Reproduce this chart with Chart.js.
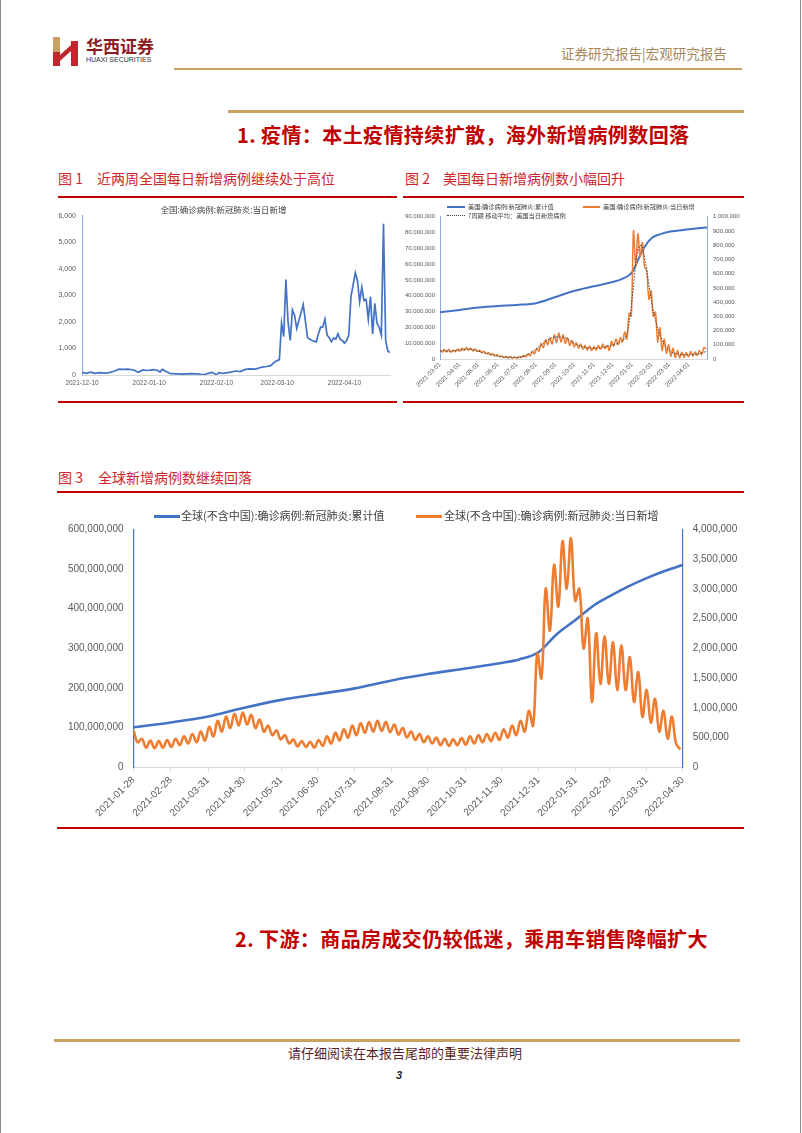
<!DOCTYPE html>
<html>
<head>
<meta charset="utf-8">
<script src="https://cdn.jsdelivr.net/npm/chart.js@4.4.0/dist/chart.umd.min.js"></script>
<style>
  body { margin: 0; background: #fff; }
  #page { position: relative; width: 802px; height: 1133px; overflow: hidden; font-family: "Noto Sans CJK SC", sans-serif; background: #fff; }
  .t { position: absolute; white-space: nowrap; }
  .bar { position: absolute; }
  canvas { position: absolute; }
  .sec { font-size: 20px; line-height: 20px; font-weight: 700; color: #c00000; letter-spacing: 0.4px; }
  .fig { font-size: 14px; line-height: 14px; color: #d0262a; }
  .lg { color: #404040; }
</style>
</head>
<body>
<div id="page">
  <!-- page edges -->
  <div class="bar" style="left:0;top:0;width:1px;height:1133px;background:#8c8c8c"></div>
  <div class="bar" style="left:800px;top:0;width:1px;height:1133px;background:#8c8c8c"></div>

  <!-- header -->
  <svg class="t" style="left:53px;top:37px" width="26" height="29" viewBox="0 0 26 29">
    <rect x="0" y="0" width="7" height="29" fill="#c8a064"/>
    <rect x="0" y="15" width="7" height="14" fill="#c0272d"/>
    <polygon points="7,18 18,8 18,14 7,24" fill="#c0272d"/>
    <rect x="18" y="4" width="7" height="25" fill="#c0272d"/>
  </svg>
  <div class="t" style="left:86px;top:37px;font-size:17px;line-height:17px;font-weight:700;color:#8c1c1f">华西证券</div>
  <div class="t" style="left:86px;top:56px;font-size:7px;line-height:7px;color:#333;font-family:'Liberation Sans'">HUAXI SECURITIES</div>
  <div class="t" style="left:561px;top:46px;font-size:13.5px;line-height:14px;color:#a8875c">证券研究报告|宏观研究报告</div>
  <div class="bar" style="left:174px;top:68px;width:568px;height:2px;background:#c8a165"></div>

  <div class="bar" style="left:228px;top:110px;width:516px;height:3px;background:#c8a165"></div>
  <div class="t sec" style="left:237px;top:125px">1. 疫情：本土疫情持续扩散，海外新增病例数回落</div>

  <div class="t fig" style="left:58px;top:171px">图 1</div>
  <div class="t fig" style="left:97px;top:171px">近两周全国每日新增病例继续处于高位</div>
  <div class="t fig" style="left:405px;top:171px">图 2</div>
  <div class="t fig" style="left:443px;top:171px">美国每日新增病例数小幅回升</div>
  <div class="bar" style="left:58px;top:196px;width:339px;height:2px;background:#c00000"></div>
  <div class="bar" style="left:403px;top:196px;width:341px;height:2px;background:#c00000"></div>
  <div class="bar" style="left:58px;top:401px;width:339px;height:2px;background:#c00000"></div>
  <div class="bar" style="left:403px;top:401px;width:341px;height:2px;background:#c00000"></div>

  <canvas id="c1" width="340" height="200" style="left:57px;top:198px"></canvas>
  <canvas id="c2" width="340" height="200" style="left:403px;top:198px"></canvas>

  <!-- chart 2 legend -->
  <div class="bar" style="left:447px;top:206px;width:18px;height:2px;background:#4472c4"></div>
  <div class="t lg" style="left:468px;top:204px;font-size:6.2px;line-height:6px">美国:确诊病例:新冠肺炎:累计值</div>
  <div class="bar" style="left:583px;top:206px;width:17px;height:2px;background:#ed7d31"></div>
  <div class="t lg" style="left:603px;top:204px;font-size:6.2px;line-height:6px">美国:确诊病例:新冠肺炎:当日新增</div>
  <div class="bar" style="left:447px;top:215px;width:18px;height:0;border-top:1px dotted #404040"></div>
  <div class="t lg" style="left:468px;top:213px;font-size:6.2px;line-height:6px">7周期 移动平均：美国当日新增病例</div>

  <div class="t fig" style="left:58px;top:470px">图 3</div>
  <div class="t fig" style="left:98px;top:470px">全球新增病例数继续回落</div>
  <div class="bar" style="left:57px;top:491px;width:687px;height:2px;background:#c00000"></div>

  <canvas id="c3" width="686" height="328" style="left:57px;top:500px"></canvas>
  <div class="bar" style="left:154px;top:515px;width:26px;height:3px;background:#4472c4"></div>
  <div class="t lg" style="left:181px;top:510px;font-size:11px;line-height:11px">全球(不含中国):确诊病例:新冠肺炎:累计值</div>
  <div class="bar" style="left:416px;top:515px;width:26px;height:3px;background:#ed7d31"></div>
  <div class="t lg" style="left:444px;top:510px;font-size:11px;line-height:11px">全球(不含中国):确诊病例:新冠肺炎:当日新增</div>

  <div class="bar" style="left:57px;top:827px;width:687px;height:2px;background:#c00000"></div>

  <div class="t sec" style="left:235px;top:929px">2. 下游：商品房成交仍较低迷，乘用车销售降幅扩大</div>

  <!-- footer -->
  <div class="bar" style="left:54px;top:1039px;width:686px;height:3px;background:#c8a165"></div>
  <div class="t" style="left:288px;top:1046px;font-size:13px;line-height:13px;color:#5a1f1f">请仔细阅读在本报告尾部的重要法律声明</div>
  <div class="t" style="left:396px;top:1070px;font-size:11px;line-height:11px;font-weight:700;font-style:italic;color:#222;font-family:'Liberation Sans'">3</div>
</div>

<script>
// ---------- chart 1: 全国 当日新增 ----------
const cnStart = '2021-12-10';
const cnDates = ['2021-12-10','2021-12-12','2021-12-14','2021-12-16','2021-12-18','2021-12-21','2021-12-23','2021-12-25',
  '2021-12-27','2021-12-29','2021-12-31','2022-01-03','2022-01-04','2022-01-05','2022-01-07','2022-01-09','2022-01-12',
  '2022-01-14','2022-01-15','2022-01-16','2022-01-18','2022-01-20','2022-01-23','2022-01-26','2022-01-29','2022-02-01',
  '2022-02-04','2022-02-07','2022-02-08','2022-02-10','2022-02-11','2022-02-13','2022-02-16','2022-02-19','2022-02-21',
  '2022-02-23','2022-02-25','2022-02-28','2022-03-03','2022-03-05','2022-03-07','2022-03-09','2022-03-11','2022-03-12',
  '2022-03-13','2022-03-14','2022-03-15','2022-03-16','2022-03-17','2022-03-18','2022-03-19','2022-03-20','2022-03-22',
  '2022-03-24','2022-03-26','2022-03-28','2022-03-29','2022-03-30','2022-03-31','2022-04-01','2022-04-02','2022-04-03',
  '2022-04-04','2022-04-05','2022-04-06','2022-04-07','2022-04-08','2022-04-09','2022-04-10','2022-04-11','2022-04-12',
  '2022-04-13','2022-04-14','2022-04-15','2022-04-16','2022-04-17','2022-04-18','2022-04-19','2022-04-20','2022-04-21',
  '2022-04-22','2022-04-23','2022-04-24','2022-04-25','2022-04-26','2022-04-27','2022-04-28','2022-04-29','2022-04-30',
  '2022-05-01'];
const cnNew = [100, 60, 110, 60, 90, 70, 100, 150,
  220, 210, 220, 190, 140, 100, 190, 170, 200,
  170, 110, 210, 120, 50, 40, 30, 50, 40,
  10, 80, 100, 10, 90, 60, 100, 150, 130,
  200, 230, 220, 300, 320, 350, 500, 580, 1950,
  1450, 3600, 2000, 1300, 2450, 2250, 1750, 2050, 2650,
  1400, 1300, 1250, 1550, 1800, 1800, 2100, 1500, 1400,
  1250, 1400, 1350, 1550, 1350, 1300, 1200, 1300, 1500,
  2950, 3400, 3850, 3550, 2750, 3300, 2800, 2850, 2100,
  2950, 1550, 2700, 1950, 1800, 1500, 5700, 1300, 900,
  850];
const cnTicks = ['2021-12-10','2022-01-10','2022-02-10','2022-03-10','2022-04-10'];

// ---------- chart 2: 美国 ----------
const usStart = '2021-03-01';
const usTicks = ['2021-03-01','2021-04-01','2021-05-01','2021-06-01','2021-07-01','2021-08-01','2021-09-01',
  '2021-10-01','2021-11-01','2021-12-01','2022-01-01','2022-02-01','2022-03-01','2022-04-01'];
const usCumDates = ['2021-03-01','2021-04-01','2021-05-01','2021-06-01','2021-07-01','2021-08-01','2021-09-01',
  '2021-10-01','2021-11-01','2021-12-01','2021-12-15','2022-01-01','2022-01-10','2022-01-20','2022-02-01',
  '2022-02-15','2022-03-01','2022-04-01','2022-04-30'];
const usCum = [29.5, 31.0, 32.5, 33.5, 34.2, 35.3, 39.2, 43.2, 46.0, 48.7, 50.5, 55.0, 62.5, 70.5, 76.5,
  79.0, 80.5, 82.0, 83.2]; // 百万
// 当日新增, 千例, 每3.5天一个读数
const usStep = 3.5;
const usDaily = [65, 48, 68, 50, 66, 47, 64, 50, 70,
  55, 76, 60, 80, 62, 76, 56, 70, 52,
  62, 44, 54, 36, 46, 28, 38, 22, 30,
  16, 22, 10, 18, 8, 16, 6, 14,
  6, 16, 10, 24, 14, 36, 22, 52, 36,
  75, 55, 110, 80, 135, 100, 150, 105, 170,
  115, 185, 120, 170, 110, 150, 95, 130, 85,
  115, 75, 105, 68, 95, 62, 92, 60,
  88, 62, 95, 68, 105, 72, 95, 60, 125,
  90, 140, 100, 150, 120, 190, 140, 320, 300,
  900, 650, 880, 720, 820, 650, 620, 420, 480,
  300, 330, 120, 220, 60, 140, 40, 100,
  20, 75, 10, 60, 8, 50, 10, 45, 15,
  55, 20, 50, 25, 60, 30, 80, 70];
const usMaDates = ['2021-03-01','2021-03-15','2021-04-01','2021-04-15','2021-05-01','2021-05-15','2021-06-01',
  '2021-06-15','2021-07-01','2021-07-15','2021-08-01','2021-08-15','2021-09-01','2021-09-15','2021-10-01',
  '2021-10-15','2021-11-01','2021-11-15','2021-12-01','2021-12-15','2021-12-25','2022-01-01','2022-01-08',
  '2022-01-15','2022-01-22','2022-02-01','2022-02-10','2022-02-20','2022-03-01','2022-03-15','2022-04-01',
  '2022-04-15','2022-04-30'];
const usMa = [58, 55, 62, 70, 55, 38, 20, 12, 12, 25, 70, 120, 155, 150, 110, 85, 75, 82, 100, 125, 200,
  430, 720, 800, 680, 400, 220, 110, 60, 35, 30, 35, 55];

// ---------- chart 3: 全球(不含中国) ----------
const glStart = '2021-01-28';
const glTicks = ['2021-01-28','2021-02-28','2021-03-31','2021-04-30','2021-05-31','2021-06-30','2021-07-31',
  '2021-08-31','2021-09-30','2021-10-31','2021-11-30','2021-12-31','2022-01-31','2022-02-28','2022-03-31','2022-04-30'];
const glCumDates = ['2021-01-28','2021-02-28','2021-03-31','2021-04-30','2021-05-31','2021-06-30','2021-07-31',
  '2021-08-31','2021-09-30','2021-10-31','2021-11-30','2021-12-15','2021-12-31','2022-01-15','2022-01-31',
  '2022-02-15','2022-02-28','2022-03-15','2022-03-31','2022-04-15','2022-04-30'];
const glCum = [101, 113, 128, 150, 170, 184, 199, 219, 235, 249, 263, 272, 290, 335, 372, 408, 431, 455, 477,
  495, 510]; // 百万
const glStep = 3.5;
const glDaily = [620, 420, 480, 330, 450, 320, 440, 330, 460,
  340, 480, 370, 520, 400, 560, 420, 600, 450,
  680, 520, 780, 600, 850, 660, 900, 700, 920,
  720, 880, 660, 800, 600, 700, 540, 620, 470,
  540, 400, 470, 350, 440, 340, 430, 330,
  460, 360, 520, 400, 580, 450, 640, 500, 700,
  540, 740, 580, 760, 600, 780, 610, 760, 590,
  720, 550, 660, 500, 600, 460, 560, 420, 520,
  400, 500, 370, 480, 360, 470, 370, 490,
  380, 520, 400, 540, 420, 560, 440, 580, 460,
  640, 500, 700, 540, 780, 600, 950, 700, 1900,
  1500, 3000, 2300, 3400, 2700, 3800, 3000, 3850, 2800,
  3000, 2000, 2500, 1100, 2250, 1400, 2200, 1400,
  2100, 1300, 2050, 1300, 1850, 1100, 1600, 850, 1300,
  750, 1150, 600, 950, 480, 850, 400, 300]; // 千例

const DAY = 86400000;
function dayOf(s, base) { return (Date.parse(s) - Date.parse(base)) / DAY; }
function dateAt(d, base) { return new Date(Date.parse(base) + d * DAY).toISOString().slice(0, 10); }
const num = v => Number(v).toLocaleString('en-US');
const tickColor = '#595959';
const noGrid = { display: false, drawTicks: false };

Chart.defaults.animation = false;
Chart.defaults.font.family = 'Liberation Sans';

// chart 1
new Chart(document.getElementById('c1'), {
    type: 'line',
    data: {
        datasets: [{
            label: '全国:确诊病例:新冠肺炎:当日新增',
            data: cnDates.map((d, i) => ({ x: dayOf(d, cnStart), y: cnNew[i] })),
            borderColor: '#4472c4',
            borderWidth: 1.7,
            pointRadius: 0,
            tension: 0
        }]
    },
    options: {
        responsive: false,
        layout: { padding: { right: 7 } },
        plugins: {
            legend: { display: false },
            tooltip: { enabled: false },
            title: {
                display: true,
                text: '全国:确诊病例:新冠肺炎:当日新增',
                color: '#404040',
                font: { size: 8.5, family: 'Noto Sans CJK SC', weight: 'normal' },
                padding: { top: 7, bottom: 0.5 }
            }
        },
        scales: {
            x: {
                type: 'linear', min: 0, max: dayOf(cnDates[cnDates.length - 1], cnStart),
                afterBuildTicks: s => { s.ticks = cnTicks.map(t => ({ value: dayOf(t, cnStart) })); },
                afterFit: s => { s.height = 23; },
                ticks: { autoSkip: false, maxRotation: 0, minRotation: 0, padding: 4, color: tickColor,
                    font: { size: 6.5 }, callback: v => dateAt(v, cnStart) },
                grid: noGrid,
                border: { color: '#d9d9d9' }
            },
            y: {
                min: 0, max: 6000,
                afterFit: s => { s.width = 25; },
                ticks: { stepSize: 1000, padding: 6, color: tickColor, font: { size: 7 }, callback: num },
                grid: noGrid,
                border: { color: '#8faadc' }
            }
        }
    }
});

// chart 2
new Chart(document.getElementById('c2'), {
    type: 'line',
    data: {
        datasets: [{
            label: '7周期 移动平均：美国当日新增病例',
            data: usMaDates.map((d, i) => ({ x: dayOf(d, usStart), y: usMa[i] * 1000 })),
            yAxisID: 'y2', borderColor: '#404040', borderWidth: 1, borderDash: [1.5, 1.5],
            pointRadius: 0, cubicInterpolationMode: 'monotone', order: 0
        }, {
            label: '美国:确诊病例:新冠肺炎:当日新增',
            data: usDaily.map((v, i) => ({ x: i * usStep, y: v * 1000 })),
            yAxisID: 'y2', borderColor: '#ed7d31', borderWidth: 1.5, pointRadius: 0, tension: 0.3, order: 1
        }, {
            label: '美国:确诊病例:新冠肺炎:累计值',
            data: usCumDates.map((d, i) => ({ x: dayOf(d, usStart), y: usCum[i] * 1e6 })),
            yAxisID: 'y', borderColor: '#4472c4', borderWidth: 2, pointRadius: 0,
            cubicInterpolationMode: 'monotone', order: 2
        }]
    },
    options: {
        responsive: false,
        layout: { padding: { top: 18.7 } },
        plugins: { legend: { display: false }, tooltip: { enabled: false } },
        scales: {
            x: {
                type: 'linear', min: 0, max: dayOf('2022-04-30', usStart),
                afterBuildTicks: s => { s.ticks = usTicks.map(t => ({ value: dayOf(t, usStart) })); },
                afterFit: s => { s.height = 39; },
                ticks: { autoSkip: false, maxRotation: 45, minRotation: 45, padding: 2, color: tickColor,
                    font: { size: 6.2 }, callback: v => dateAt(v, usStart) },
                grid: noGrid,
                border: { color: '#d9d9d9' }
            },
            y: {
                min: 0, max: 90000000,
                afterFit: s => { s.width = 37; },
                ticks: { stepSize: 10000000, padding: 5, color: tickColor, font: { size: 6 }, callback: num },
                grid: noGrid,
                border: { color: '#8faadc' }
            },
            y2: {
                position: 'right', min: 0, max: 1000000,
                afterFit: s => { s.width = 36; },
                ticks: { stepSize: 100000, padding: 6, color: tickColor, font: { size: 6 }, callback: num },
                grid: noGrid,
                border: { color: '#8faadc' }
            }
        }
    }
});

// chart 3
new Chart(document.getElementById('c3'), {
    type: 'line',
    data: {
        datasets: [{
            label: '全球(不含中国):确诊病例:新冠肺炎:累计值',
            data: glCumDates.map((d, i) => ({ x: dayOf(d, glStart), y: glCum[i] * 1e6 })),
            yAxisID: 'y', borderColor: '#4472c4', borderWidth: 2.6, pointRadius: 0,
            cubicInterpolationMode: 'monotone', order: 1
        }, {
            label: '全球(不含中国):确诊病例:新冠肺炎:当日新增',
            data: glDaily.map((v, i) => ({ x: i * glStep, y: v * 1000 })),
            yAxisID: 'y2', borderColor: '#ed7d31', borderWidth: 2.6, pointRadius: 0, tension: 0.4, order: 0
        }]
    },
    options: {
        responsive: false,
        layout: { padding: { top: 29.3 } },
        plugins: { legend: { display: false }, tooltip: { enabled: false } },
        scales: {
            x: {
                type: 'linear', min: 0, max: dayOf('2022-04-30', glStart),
                afterBuildTicks: s => { s.ticks = glTicks.map(t => ({ value: dayOf(t, glStart) })); },
                afterFit: s => { s.height = 60.7; },
                ticks: { autoSkip: false, maxRotation: 45, minRotation: 45, padding: 3, color: tickColor,
                    font: { size: 10 }, callback: v => dateAt(v, glStart) },
                grid: { display: true, drawOnChartArea: false, drawTicks: true, tickLength: 4, color: '#d9d9d9' },
                border: { color: '#d9d9d9' }
            },
            y: {
                min: 0, max: 600000000,
                afterFit: s => { s.width = 76.5; },
                ticks: { stepSize: 100000000, padding: 10, color: tickColor, font: { size: 10 }, callback: num },
                grid: noGrid,
                border: { color: '#4472c4', width: 1.2 }
            },
            y2: {
                position: 'right', min: 0, max: 4000000,
                afterFit: s => { s.width = 60.3; },
                ticks: { stepSize: 500000, padding: 10, color: tickColor, font: { size: 10 }, callback: num },
                grid: noGrid,
                border: { color: '#4472c4', width: 1.2 }
            }
        }
    }
});
</script>
</body>
</html>
